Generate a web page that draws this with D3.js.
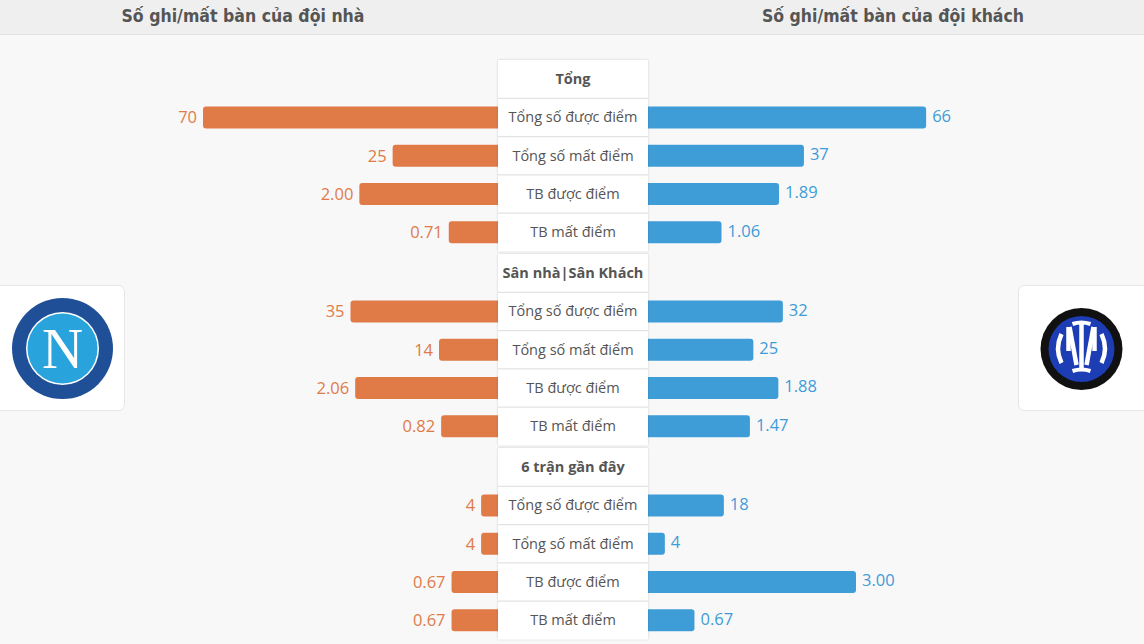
<!DOCTYPE html>
<html><head><meta charset="utf-8">
<script src="https://cdn.jsdelivr.net/npm/d3@7"></script>
<style>
html,body{margin:0;padding:0;background:#f8f8f8;}
svg{display:block;}
</style></head>
<body>
<svg id="c" width="1144" height="644"></svg>
<script>
const titles = ["Số ghi/mất bàn của đội nhà", "Số ghi/mất bàn của đội khách"];
const sections = ["Tổng", "Sân nhà|Sân Khách", "6 trận gần đây"];
const rowLabels = ["Tổng số được điểm", "Tổng số mất điểm", "TB được điểm", "TB mất điểm"];
const rowIsAverage = [false, false, true, true];
const homeValues = [70, 25, 2.00, 0.71, 35, 14, 2.06, 0.82, 4, 4, 0.67, 0.67];
const awayValues = [66, 37, 1.89, 1.06, 32, 25, 1.88, 1.47, 18, 4, 3.00, 0.67];

(function(){
const svg = d3.select("#c");
const W = 1144, H = 644;
const orange = "#e07b48", blue = "#3e9cd7", textGray = "#555";

// header band
svg.append("rect").attr("x",0).attr("y",0).attr("width",W).attr("height",34).attr("fill","#efefef");
svg.append("rect").attr("x",0).attr("y",34).attr("width",W).attr("height",1).attr("fill","#e3e3e3");
const tx = [243, 893], tl = [243, 262];
titles.forEach((t,i)=>{
  svg.append("text").attr("x",tx[i]).attr("y",22).attr("text-anchor","middle")
    .attr("font-family","'DejaVu Sans Condensed','DejaVu Sans',sans-serif").attr("font-weight","bold")
    .attr("font-size",17).attr("fill","#555")
    .attr("textLength",tl[i]).attr("lengthAdjust","spacingAndGlyphs").text(t);
});

// layout
const boxX0 = 498, boxX1 = 648, cellH = 38.25, topY = 60, blockGap = 2.75;
const slotY = d3.scaleLinear().domain([0,1]).range([topY, topY+cellH]);
function cellTop(block, idx){ return slotY(block*5+idx) + block*blockGap; }

const countScale = d3.scaleLinear().domain([0,70]).range([0,295]);
const avgScale = d3.scaleLinear().domain([0,3]).range([0,208]);
const barH = 22;

const rows = [];
homeValues.forEach((hv,k)=>{
  const block = Math.floor(k/4), r = k%4;
  rows.push({block, r, label: rowLabels[r], home: hv, away: awayValues[k], avg: rowIsAverage[r]});
});

// bars
const g = svg.append("g");
rows.forEach(d=>{
  const yc = cellTop(d.block, d.r+1) + cellH/2;
  const sc = d.avg ? avgScale : countScale;
  const fmt = d.avg ? d3.format(".2f") : d3.format("d");
  const hw = sc(d.home), aw = sc(d.away);
  g.append("rect").attr("x",boxX0-hw).attr("y",yc-barH/2).attr("width",hw+6).attr("height",barH)
    .attr("rx",3).attr("fill",orange);
  g.append("rect").attr("x",boxX1-6).attr("y",yc-barH/2).attr("width",aw+6).attr("height",barH)
    .attr("rx",3).attr("fill",blue);
  g.append("text").attr("x",boxX0-hw-6).attr("y",yc+1.5).attr("text-anchor","end").attr("dominant-baseline","middle")
    .attr("font-family","'Open Sans',sans-serif").attr("font-size",16.5).attr("fill",orange).text(fmt(d.home));
  g.append("text").attr("x",boxX1+aw+6).attr("y",yc).attr("text-anchor","start").attr("dominant-baseline","middle")
    .attr("font-family","'Open Sans',sans-serif").attr("font-size",16.5).attr("fill",blue).text(fmt(d.away));
});

// center column
const defs = svg.append("defs");
const f = defs.append("filter").attr("id","sh").attr("x","-10%").attr("y","-10%").attr("width","120%").attr("height","120%");
f.append("feDropShadow").attr("dx",0).attr("dy",0).attr("stdDeviation",1.2).attr("flood-color","#000").attr("flood-opacity",0.18);

sections.forEach((s,b)=>{
  const y0 = cellTop(b,0), y1 = cellTop(b,5);
  svg.append("rect").attr("x",boxX0).attr("y",y0).attr("width",boxX1-boxX0).attr("height",y1-y0)
    .attr("fill","#fff").attr("filter","url(#sh)");
  for(let i=0;i<5;i++){
    const yt = cellTop(b,i);
    if(i>0) svg.append("rect").attr("x",boxX0).attr("y",yt-0.5).attr("width",boxX1-boxX0).attr("height",1.2).attr("fill","#e2e2e2");
    const txt = i===0 ? s : rowLabels[i-1];
    svg.append("text").attr("x",(boxX0+boxX1)/2).attr("y",yt+cellH/2+1).attr("text-anchor","middle")
      .attr("dominant-baseline","middle").attr("font-family","'Open Sans',sans-serif")
      .attr("font-size",14.5).attr("font-weight",i===0?"bold":"normal").attr("fill",textGray).text(txt);
  }
});

// logo cards
function card(x){
  svg.append("rect").attr("x",x).attr("y",285.5).attr("width",131).attr("height",125).attr("rx",6)
    .attr("fill","#fff").attr("stroke","#e6e6e6");
}
card(-6.5); card(1018.5);

// Napoli
const nx = 62.5, ny = 348.5;
svg.append("circle").attr("cx",nx).attr("cy",ny).attr("r",50.5).attr("fill","#1f4f97");
svg.append("circle").attr("cx",nx).attr("cy",ny).attr("r",36.5).attr("fill","#fff");
svg.append("circle").attr("cx",nx).attr("cy",ny).attr("r",35).attr("fill","#29a3dc");
svg.append("text").attr("x",nx).attr("y",ny+19.5).attr("text-anchor","middle")
  .attr("font-family","'Liberation Serif','DejaVu Serif',serif").attr("font-size",57).attr("fill","#fff").text("N");

// Inter
const ix = 1081.5, iy = 349;
svg.append("circle").attr("cx",ix).attr("cy",iy).attr("r",41).attr("fill","#111");
svg.append("circle").attr("cx",ix).attr("cy",iy).attr("r",33).attr("fill","#1c3db4");
const ig = svg.append("g").attr("transform",`translate(${ix},${iy})`)
  .attr("fill","none").attr("stroke","#fff").attr("stroke-width",4.5).attr("stroke-linecap","butt");
// I
ig.append("path").attr("d","M0,-25 L0,22");
ig.append("path").attr("d","M-9,-25 Q0,-28 9,-25").attr("stroke-width",4);
ig.append("path").attr("d","M-9,22 Q0,19 9,22").attr("stroke-width",4);
// M halves (mirrored)
[-1,1].forEach(s=>{
  ig.append("path").attr("d",`M${20*s},-15 Q${27*s},0 ${20*s},14`);
  ig.append("path").attr("d",`M${13*s},-22 L${13*s},2`);
  ig.append("path").attr("d",`M${12*s},-22 L${5*s},16`);
});
})();
</script>
</body></html>
